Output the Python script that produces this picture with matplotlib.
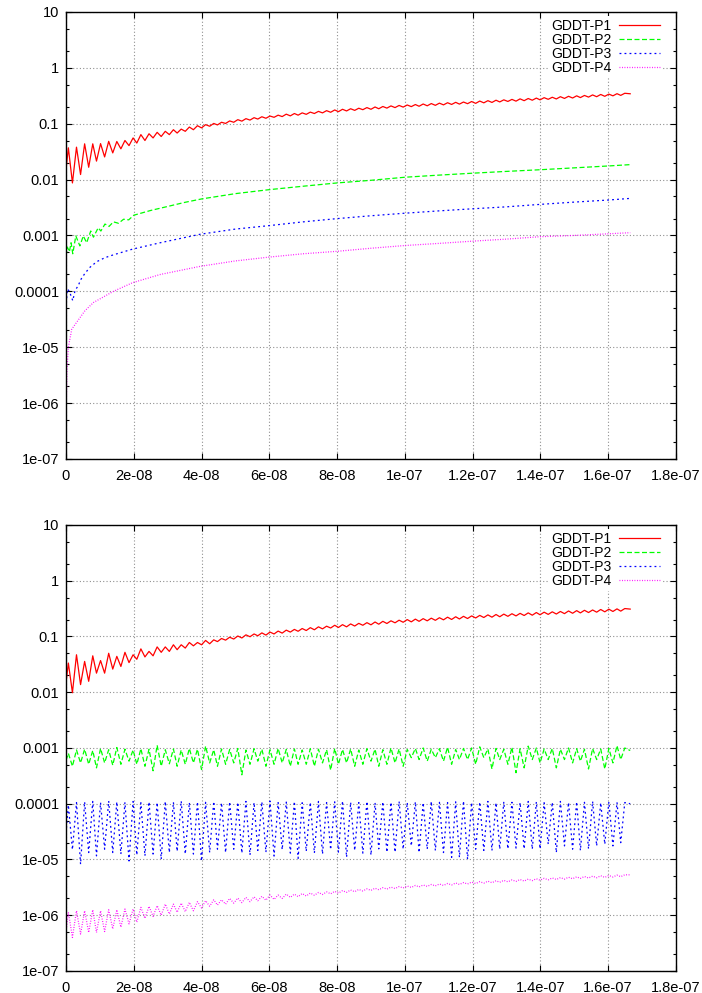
import numpy as np
import matplotlib
matplotlib.use("Agg")
import matplotlib.pyplot as plt
from matplotlib.ticker import LogLocator, NullFormatter

plt.rcParams['font.family'] = ['Liberation Sans', 'DejaVu Sans']

series_names = ["GDDT-P1", "GDDT-P2", "GDDT-P3", "GDDT-P4"]

x_ticks = [0, 2e-8, 4e-8, 6e-8, 8e-8, 1e-7, 1.2e-7, 1.4e-7, 1.6e-7, 1.8e-7]
x_tick_labels = ["0", "2e-08", "4e-08", "6e-08", "8e-08", "1e-07",
                 "1.2e-07", "1.4e-07", "1.6e-07", "1.8e-07"]
y_ticks = [1e-7, 1e-6, 1e-5, 1e-4, 1e-3, 1e-2, 1e-1, 1, 10]
y_tick_labels = ["1e-07", "1e-06", "1e-05", "0.0001", "0.001", "0.01", "0.1", "1", "10"]

# times (ns) of the oscillation maxima / minima
peak_t_ns = [0.7, 3.1, 5.5, 7.9, 10.2, 12.6, 15.0, 17.4, 19.8, 22.1,
             24.5, 26.9, 29.3, 31.7, 34.0, 36.4, 38.8, 41.2, 43.6, 45.9,
             48.3, 50.7, 53.1, 55.5, 57.8, 60.2, 62.6, 65.0, 67.4, 69.7,
             72.1, 74.5, 76.9, 79.3, 81.6, 84.0, 86.4, 88.8, 91.2, 93.5,
             95.9, 98.3, 100.7, 103.1, 105.4, 107.8, 110.2, 112.6, 115.0, 117.3,
             119.7, 122.1, 124.5, 126.9, 129.2, 131.6, 134.0, 136.4, 138.8, 141.1,
             143.5, 145.9, 148.3, 150.7, 153.0, 155.4, 157.8, 160.2, 162.6, 164.9]
trough_t_ns = [1.9, 4.3, 6.7, 9.0, 11.4, 13.8, 16.2, 18.6, 20.9, 23.3,
               25.7, 28.1, 30.5, 32.8, 35.2, 37.6, 40.0, 42.4, 44.7, 47.1,
               49.5, 51.9, 54.3, 56.6, 59.0, 61.4, 63.8, 66.2, 68.5, 70.9,
               73.3, 75.7, 78.1, 80.4, 82.8, 85.2, 87.6, 90.0, 92.3, 94.7,
               97.1, 99.5, 101.9, 104.2, 106.6, 109.0, 111.4, 113.8, 116.1, 118.5,
               120.9, 123.3, 125.7, 128.0, 130.4, 132.8, 135.2, 137.6, 139.9, 142.3,
               144.7, 147.1, 149.5, 151.8, 154.2, 156.6, 159.0, 161.4, 163.7]
end_t_ns = 166.5

# ---- top panel ----
top_p1_start, top_p1_end = 0.015, 0.343
top_p1_peaks = [0.037, 0.038, 0.0436, 0.0436, 0.044, 0.0483, 0.048, 0.050, 0.0556, 0.0637,
                0.066, 0.070, 0.073, 0.078, 0.080, 0.087, 0.092, 0.096, 0.101, 0.106,
                0.112, 0.118, 0.123, 0.128, 0.133, 0.137, 0.142, 0.148, 0.152, 0.156,
                0.161, 0.166, 0.171, 0.176, 0.181, 0.185, 0.189, 0.194, 0.199, 0.203,
                0.208, 0.212, 0.216, 0.220, 0.225, 0.229, 0.233, 0.237, 0.241, 0.244,
                0.249, 0.254, 0.258, 0.263, 0.267, 0.272, 0.278, 0.282, 0.287, 0.292,
                0.297, 0.304, 0.309, 0.315, 0.320, 0.327, 0.333, 0.338, 0.344, 0.350]
top_p1_troughs = [0.0087, 0.0123, 0.0166, 0.0214, 0.0254, 0.030, 0.0355, 0.0405, 0.045, 0.050,
                  0.0556, 0.059, 0.0637, 0.068, 0.073, 0.078, 0.084, 0.090, 0.095, 0.101,
                  0.106, 0.111, 0.116, 0.121, 0.125, 0.130, 0.134, 0.138, 0.142, 0.147,
                  0.152, 0.156, 0.160, 0.164, 0.169, 0.173, 0.178, 0.181, 0.185, 0.190,
                  0.194, 0.198, 0.202, 0.205, 0.209, 0.213, 0.217, 0.221, 0.224, 0.228,
                  0.231, 0.236, 0.240, 0.245, 0.250, 0.253, 0.258, 0.263, 0.267, 0.273,
                  0.277, 0.283, 0.288, 0.293, 0.299, 0.304, 0.309, 0.315, 0.321]

top_p2_t_ns = [0, 0.4, 1.0, 1.5, 2.0, 2.9, 4.1, 5.1, 6.1, 7.3, 8.1, 9.5, 10.3, 11.5,
               12.7, 14.0, 15.5, 17.0, 18.5, 20, 25, 30, 35, 40, 50, 60, 70, 80,
               90, 100, 110, 120, 130, 140, 150, 160, 166.5]
top_p2 = [0.43, 0.62, 0.51, 0.74, 0.47, 0.98, 0.65, 0.98, 0.74, 1.2, 0.93, 1.37, 1.2, 1.6,
          1.45, 1.75, 1.65, 1.95, 1.9, 2.3, 2.8, 3.3, 3.9, 4.5, 5.6, 6.6, 7.6, 8.7,
          9.7, 11.0, 12.0, 13.0, 14.0, 15.0, 16.2, 17.5, 18.5]  # x 1e-3

top_p3_t_ns = [0, 0.4, 1.0, 2.0, 2.7, 3.6, 4.3, 5.6, 7.1, 9.1, 11.5, 14.0, 19.7, 27.8,
               39.6, 50, 60, 70, 80, 90, 100, 110, 120, 130, 140, 150, 160, 166.5]
top_p3 = [0.05, 0.11, 0.10, 0.068, 0.105, 0.125, 0.16, 0.21, 0.27, 0.34, 0.40, 0.45, 0.57, 0.74,
          1.05, 1.3, 1.5, 1.75, 2.0, 2.25, 2.5, 2.75, 3.0, 3.25, 3.6, 3.95, 4.3, 4.6]  # x 1e-3

top_p4_t_ns = [0, 0.1, 0.3, 0.7, 1.7, 3.15, 5.6, 8.1, 14, 19.7, 27.8, 39.6, 50,
               60, 70, 80, 90, 100, 110, 120, 130, 140, 150, 160, 166.5]
top_p4 = [0.0012, 0.01, 0.04, 0.10, 0.21, 0.28, 0.45, 0.63, 1.0, 1.43, 2.0, 2.8, 3.5,
          4.1, 4.7, 5.2, 5.9, 6.6, 7.2, 7.9, 8.6, 9.5, 10.0, 10.7, 11.2]  # x 1e-4

# ---- bottom panel ----
bot_p1_start, bot_p1_end = 0.0147, 0.31
bot_p1_peaks = [0.0334, 0.047, 0.0357, 0.045, 0.037, 0.050, 0.044, 0.052, 0.047, 0.060,
                0.054, 0.065, 0.065, 0.071, 0.071, 0.078, 0.078, 0.085, 0.087, 0.092,
                0.097, 0.102, 0.107, 0.111, 0.116, 0.120, 0.125, 0.130, 0.134, 0.139,
                0.144, 0.149, 0.153, 0.159, 0.163, 0.168, 0.172, 0.177, 0.182, 0.187,
                0.191, 0.196, 0.201, 0.205, 0.209, 0.213, 0.217, 0.222, 0.226, 0.230,
                0.234, 0.239, 0.244, 0.248, 0.252, 0.256, 0.260, 0.265, 0.269, 0.273,
                0.277, 0.281, 0.287, 0.291, 0.295, 0.299, 0.305, 0.309, 0.313, 0.317]
bot_p1_troughs = [0.0098, 0.0137, 0.0157, 0.022, 0.022, 0.026, 0.029, 0.034, 0.039, 0.043,
                  0.045, 0.052, 0.054, 0.058, 0.062, 0.068, 0.071, 0.074, 0.081, 0.086,
                  0.090, 0.094, 0.099, 0.103, 0.106, 0.111, 0.115, 0.120, 0.124, 0.128,
                  0.132, 0.137, 0.142, 0.145, 0.149, 0.154, 0.159, 0.162, 0.166, 0.171,
                  0.176, 0.180, 0.183, 0.187, 0.191, 0.195, 0.199, 0.202, 0.206, 0.210,
                  0.215, 0.219, 0.222, 0.226, 0.230, 0.234, 0.238, 0.241, 0.245, 0.249,
                  0.253, 0.257, 0.261, 0.265, 0.269, 0.273, 0.277, 0.281, 0.285]

bot_p2_start, bot_p2_end = 0.6, 0.9  # x 1e-3
bot_p2_peaks = [0.80, 0.92, 0.95, 0.90, 0.98, 0.93, 1.02, 0.95, 0.92, 0.97,
                0.95, 1.12, 0.93, 0.96, 0.92, 0.98, 0.95, 1.08, 0.93, 0.96,
                0.94, 0.98, 0.92, 0.97, 0.95, 0.93, 0.98, 0.94, 0.96, 0.92,
                0.97, 0.95, 0.93, 0.98, 0.94, 0.96, 0.92, 0.97, 0.95, 0.93,
                1.00, 0.96, 0.94, 0.98, 1.00, 0.95, 0.97, 1.03, 0.94, 0.98,
                1.00, 1.05, 0.96, 0.98, 0.95, 1.03, 0.97, 1.08, 1.00, 0.96,
                0.98, 0.95, 1.00, 0.97, 0.95, 0.98, 0.96, 0.98, 1.10, 1.00]
bot_p2_troughs = [0.47, 0.54, 0.51, 0.44, 0.54, 0.49, 0.51, 0.58, 0.51, 0.47,
                  0.39, 0.47, 0.52, 0.47, 0.51, 0.54, 0.41, 0.54, 0.47, 0.51,
                  0.54, 0.33, 0.51, 0.58, 0.47, 0.51, 0.54, 0.47, 0.51, 0.51,
                  0.47, 0.54, 0.40, 0.51, 0.54, 0.47, 0.51, 0.58, 0.47, 0.51,
                  0.54, 0.47, 0.67, 0.62, 0.58, 0.67, 0.58, 0.51, 0.62, 0.62,
                  0.51, 0.67, 0.42, 0.62, 0.51, 0.36, 0.44, 0.62, 0.54, 0.62,
                  0.44, 0.62, 0.54, 0.58, 0.42, 0.62, 0.42, 0.54, 0.62]

bot_p3_start, bot_p3_end = 0.3, 1.0  # x 1e-4
bot_p3_peaks = [0.95, 1.05, 1.08, 1.10, 1.05, 1.12, 1.08, 1.06, 1.10, 1.04,
                1.08, 1.05, 1.10, 1.07, 1.12, 1.05, 1.08, 1.06, 1.10, 1.04,
                1.08, 1.06, 1.10, 1.05, 1.08, 1.12, 1.05, 1.07, 1.10, 1.04,
                1.06, 1.10, 1.05, 1.08, 1.12, 1.06, 1.05, 1.10, 1.04, 1.08,
                1.06, 1.10, 1.05, 1.08, 1.04, 1.10, 1.06, 1.05, 1.08, 1.12,
                1.05, 1.07, 1.10, 1.04, 1.08, 1.06, 1.05, 1.10, 1.08, 1.04,
                1.06, 1.10, 1.05, 1.08, 1.06, 1.10, 1.04, 1.08, 1.06, 1.05]
bot_p3_troughs = [1.50, 0.82, 1.33, 1.16, 1.53, 1.33, 1.25, 0.94, 1.20, 1.16,
                  1.25, 1.01, 1.33, 1.40, 1.25, 1.25, 0.94, 1.33, 1.53, 1.33,
                  1.53, 1.30, 1.20, 1.45, 1.35, 1.15, 1.50, 1.30, 1.05, 1.40,
                  1.30, 1.25, 1.50, 1.35, 1.10, 1.45, 1.30, 1.20, 1.55, 1.35,
                  1.35, 1.53, 1.75, 1.33, 1.53, 1.45, 1.33, 1.09, 1.09, 1.01,
                  1.53, 1.45, 1.45, 1.53, 1.55, 1.60, 1.55, 1.53, 1.55, 1.88,
                  1.33, 1.75, 1.53, 1.45, 1.55, 1.75, 1.88, 1.75, 2.00]  # x 1e-5

bot_p4_start, bot_p4_end = 0.5, 5.3  # x 1e-6
bot_p4_peaks = [1.13, 1.20, 1.20, 1.25, 1.20, 1.25, 1.25, 1.29, 1.29, 1.38,
                1.44, 1.48, 1.58, 1.58, 1.65, 1.70, 1.75, 1.82, 1.89, 1.89,
                2.00, 2.03, 2.09, 2.14, 2.18, 2.30, 2.30, 2.39, 2.39, 2.45,
                2.50, 2.56, 2.62, 2.68, 2.76, 2.83, 2.90, 2.97, 3.05, 3.12,
                3.19, 3.27, 3.34, 3.42, 3.48, 3.56, 3.63, 3.71, 3.79, 3.85,
                3.93, 4.00, 4.08, 4.15, 4.22, 4.30, 4.37, 4.44, 4.51, 4.59,
                4.66, 4.73, 4.80, 4.88, 4.95, 5.02, 5.10, 5.17, 5.24, 5.31]
bot_p4_troughs = [0.40, 0.46, 0.49, 0.49, 0.51, 0.57, 0.61, 0.70, 0.75, 0.88,
                  0.95, 1.00, 1.05, 1.13, 1.16, 1.20, 1.35, 1.45, 1.52, 1.58,
                  1.65, 1.68, 1.75, 1.82, 1.86, 1.92, 2.00, 2.09, 2.15, 2.21,
                  2.28, 2.35, 2.42, 2.49, 2.57, 2.64, 2.72, 2.79, 2.86, 2.94,
                  3.01, 3.08, 3.15, 3.22, 3.29, 3.36, 3.42, 3.49, 3.56, 3.63,
                  3.70, 3.76, 3.83, 3.90, 3.97, 4.04, 4.10, 4.17, 4.24, 4.31,
                  4.37, 4.44, 4.51, 4.57, 4.64, 4.70, 4.77, 4.84, 4.91]

colors = ['#ff0000', '#00ff00', '#0000ff', '#ff00ff']
dashes = [None, (4, 2), (1.5, 2.5), (0.7, 1.3)]


def zigzag(v0, peaks, troughs, v_end, scale):
    # merge maxima and minima into one time-ordered series
    t = np.concatenate([[0.0], peak_t_ns, trough_t_ns, [end_t_ns]])
    v = np.concatenate([[v0], peaks, troughs, [v_end]]) * scale
    order = np.argsort(t)
    return t[order] * 1e-9, v[order]


def style_axes(ax):
    ax.set_yscale('log')
    ax.set_xlim(0, 1.8e-7)
    ax.set_ylim(1e-7, 10)
    ax.set_xticks(x_ticks, x_tick_labels)
    ax.set_yticks(y_ticks, y_tick_labels)
    ax.yaxis.set_minor_locator(LogLocator(base=10, subs=(2, 5)))
    ax.yaxis.set_minor_formatter(NullFormatter())
    ax.tick_params(which='both', direction='in', top=True, right=True,
                   labelsize=10.5, width=0.8)
    ax.tick_params(axis='x', pad=7)
    ax.tick_params(axis='y', pad=5)
    ax.tick_params(which='major', length=4)
    ax.tick_params(which='minor', length=2)
    ax.grid(which='major', color='#909090', linestyle=(0, (1, 2)), linewidth=0.8)
    ax.set_axisbelow(True)
    for sp in ax.spines.values():
        sp.set_linewidth(1.0)


def draw(ax, curves):
    lines = []
    for (t, v), name, c, d in zip(curves, series_names, colors, dashes):
        ln, = ax.plot(t, v, color=c, lw=0.9, label=name)
        if d is not None:
            ln.set_dashes(d)
        lines.append(ln)
    style_axes(ax)
    leg = ax.legend(loc='upper right', bbox_to_anchor=(0.979, 0.991),
                    fontsize=10, frameon=True, fancybox=False,
                    edgecolor='none', facecolor='white', framealpha=1,
                    markerfirst=False, handlelength=3.0, handletextpad=0.5,
                    labelspacing=0.0, borderpad=0.2, borderaxespad=0.0)
    for txt in leg.get_texts():
        txt.set_ha('right')
    return lines


fig = plt.figure(figsize=(7.02, 9.93), dpi=100)
ax_top = fig.add_axes([0.0940, 0.5378, 0.8689, 0.4502])
ax_bot = fig.add_axes([0.0940, 0.0222, 0.8689, 0.4491])

top_curves = [
    zigzag(top_p1_start, top_p1_peaks, top_p1_troughs, top_p1_end, 1.0),
    (np.array(top_p2_t_ns) * 1e-9, np.array(top_p2) * 1e-3),
    (np.array(top_p3_t_ns) * 1e-9, np.array(top_p3) * 1e-3),
    (np.array(top_p4_t_ns) * 1e-9, np.array(top_p4) * 1e-4),
]
bot_curves = [
    zigzag(bot_p1_start, bot_p1_peaks, bot_p1_troughs, bot_p1_end, 1.0),
    zigzag(bot_p2_start, bot_p2_peaks, bot_p2_troughs, bot_p2_end, 1e-3),
    zigzag(bot_p3_start, bot_p3_peaks, [v * 0.1 for v in bot_p3_troughs], bot_p3_end, 1e-4),
    zigzag(bot_p4_start, bot_p4_peaks, bot_p4_troughs, bot_p4_end, 1e-6),
]

draw(ax_top, top_curves)
draw(ax_bot, bot_curves)

fig.savefig('out.png', dpi=100)
